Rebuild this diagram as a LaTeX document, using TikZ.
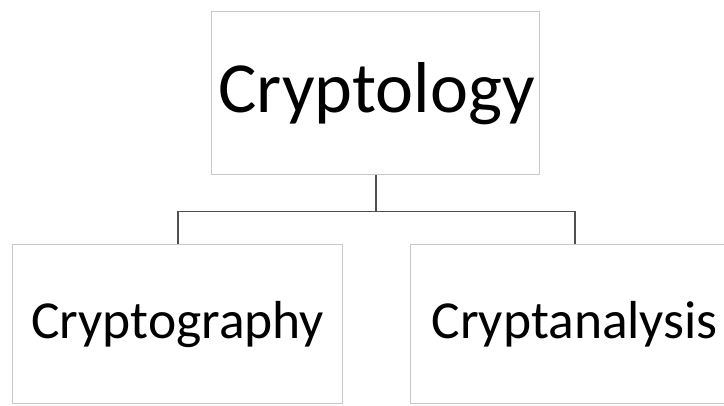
\documentclass[tikz,border=0pt]{standalone}
\usepackage{fontspec}
\setmainfont{Carlito}
\usetikzlibrary{calc}
\begin{document}
\begin{tikzpicture}[x=1pt,y=-1pt,
  box/.style={draw=boxgray, line width=1.4pt, inner sep=0pt, anchor=north west},
  link/.style={draw=linkgray, line width=1.6pt}]
\definecolor{boxgray}{RGB}{200,200,200}
\definecolor{linkgray}{RGB}{80,80,80}
\useasboundingbox (0,0) rectangle (724,406);
\clip (0,0) rectangle (724,406);
\node[box, minimum width=328pt, minimum height=163pt] (top) at (211,11) {};
\node[font=\fontsize{72}{84}\selectfont] (toptext) at ($(top.center)+(1,0)$) {Cryptology};
\node[box, minimum width=330pt, minimum height=159pt] (left) at (12,244) {};
\node[font=\fontsize{53.5}{62}\selectfont] (lefttext) at (left.center) {Cryptography};
\node[box, minimum width=328pt, minimum height=159pt] (right) at (410,244) {};
\node[font=\fontsize{53.5}{62}\selectfont] (righttext) at (right.center) {Cryptanalysis};
\coordinate (mid) at ($(top.south)+(0,36)$);
\draw[link] (top.south) -- (mid);
\draw[link] (left.north) |- (mid) -| (right.north);
\end{tikzpicture}
\end{document}
